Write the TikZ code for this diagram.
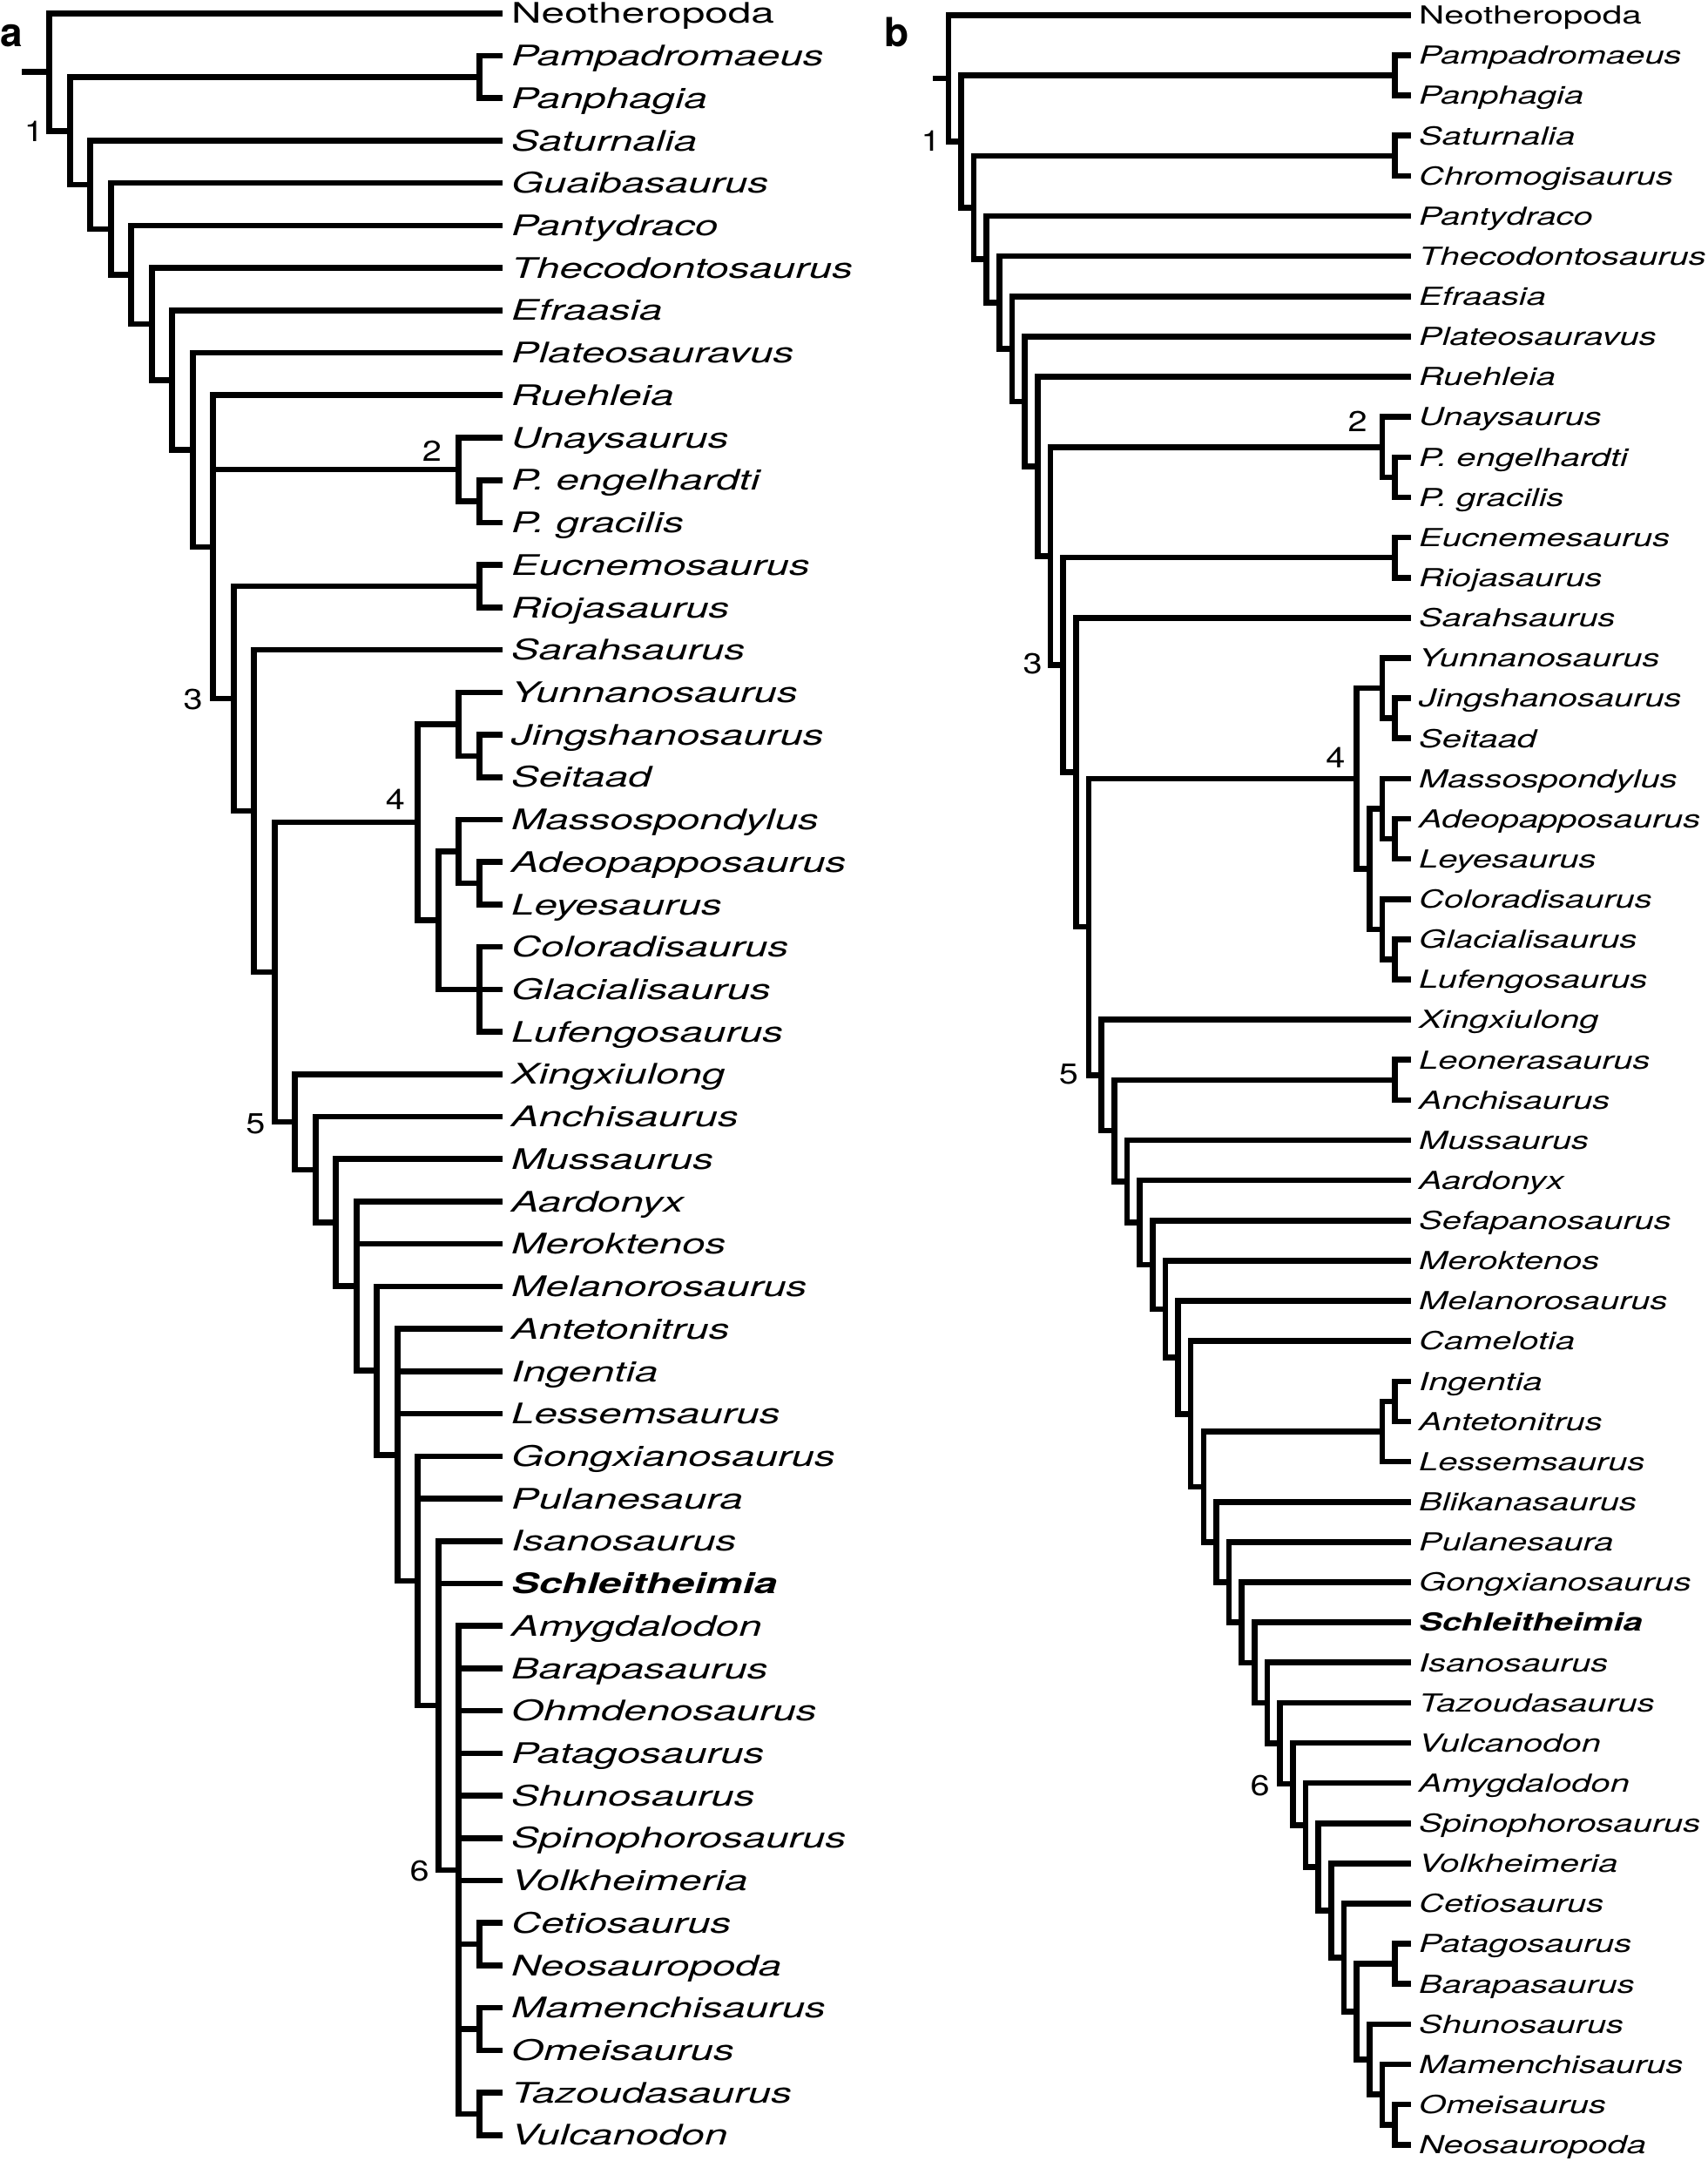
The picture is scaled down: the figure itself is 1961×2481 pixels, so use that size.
\documentclass[tikz,border=0pt]{standalone}
\usepackage{fontspec}
\setmainfont{TeX Gyre Heros}
\newfontfamily\fAi[FakeStretch=1.46]{TeX Gyre Heros}
\newfontfamily\fAr[FakeStretch=1.47]{TeX Gyre Heros}
\newfontfamily\fBi[FakeStretch=1.40]{TeX Gyre Heros}
\newfontfamily\fBr[FakeStretch=1.42]{TeX Gyre Heros}
\newfontfamily\fNum[FakeStretch=1.2]{TeX Gyre Heros}
\tikzset{
  br/.style={line width=6.6pt, line cap=rect, line join=miter},
  labA/.style={anchor=base west, inner sep=0pt, xshift=13.3pt, yshift=-11.65pt, font=\fAi\fontsize{32.5}{39}\selectfont\itshape},
  labAr/.style={labA, font=\fAr\fontsize{32.5}{39}\selectfont},
  labAb/.style={labA, font=\fAi\fontsize{32.5}{39}\selectfont\bfseries\itshape},
  labB/.style={anchor=base west, inner sep=0pt, xshift=12.8pt, yshift=-10.25pt, font=\fBi\fontsize{28.5}{34}\selectfont\itshape},
  labBr/.style={labB, font=\fBr\fontsize{28.5}{34}\selectfont},
  labBb/.style={labB, font=\fBi\fontsize{28.5}{34}\selectfont\bfseries\itshape},
  num/.style={anchor=base, inner sep=0pt, font=\fNum\fontsize{33}{40}\selectfont},
  panel/.style={anchor=base west, inner sep=0pt, font=\fontsize{46}{52}\selectfont\bfseries}
}
\begin{document}
\begin{tikzpicture}
\useasboundingbox (0pt,0pt) rectangle (1961pt,-2481pt);
\node[panel] (panelA) at (0pt,-53pt) {a};
\node[panel] (panelB) at (1015pt,-53pt) {b};

% ---------------- tree a ----------------
\begin{scope}[x={(-23.5pt,0pt)}, y={(0pt,-48.72pt)}, shift={(573.7pt,-15.3pt)}]
\foreach \i in {0,...,50} \coordinate (a\i) at (0,\i);
\coordinate (aRoot) at (22,1.38506);
\coordinate (aStub) at (23.21,1.38506);
\coordinate (aN1) at (21,2.77011);
\coordinate (aPa) at (1,1.5);
\coordinate (aS) at (20,4.04022);
\coordinate (aG) at (19,5.08044);
\coordinate (aP) at (18,6.16089);
\coordinate (aT) at (17,7.32177);
\coordinate (aE) at (16,8.64354);
\coordinate (aPl) at (15,10.28708);
\coordinate (aR) at (14,12.57416);
\coordinate (aN2) at (2,10.75);
\coordinate (aC2) at (1,11.5);
\coordinate (aN3) at (13,16.14832);
\coordinate (aER) at (1,13.5);
\coordinate (aN3b) at (12,18.79663);
\coordinate (aN45) at (11,22.59326);
\coordinate (aN4) at (4,19.0625);
\coordinate (aY) at (2,16.75);
\coordinate (aJS) at (1,17.5);
\coordinate (aN4b) at (3,21.375);
\coordinate (aMa) at (2,19.75);
\coordinate (aAL) at (1,20.5);
\coordinate (aCGL) at (1,23);
\coordinate (aN5) at (10,26.12402);
\coordinate (aAc) at (9,27.24805);
\coordinate (aMu) at (8,28.49609);
\coordinate (aAa) at (7,29.99219);
\coordinate (aMe) at (6,31.98438);
\coordinate (aAn) at (5,33.96875);
\coordinate (aGo) at (4,36.9375);
\coordinate (aIs) at (3,39.875);
\coordinate (aN6) at (2,43.75);
\coordinate (aCN) at (1,45.5);
\coordinate (aMO) at (1,47.5);
\coordinate (aTV) at (1,49.5);
\draw[br] (aStub) -- (aRoot);
\foreach \p/\c in {aRoot/a0, aRoot/aN1, aN1/aPa, aN1/aS, aPa/a1, aPa/a2, aS/a3, aS/aG, aG/a4, aG/aP, aP/a5, aP/aT, aT/a6, aT/aE, aE/a7, aE/aPl, aPl/a8, aPl/aR, aR/a9, aR/aN2, aR/aN3, aN2/a10, aN2/aC2, aC2/a11, aC2/a12, aN3/aER, aN3/aN3b, aER/a13, aER/a14, aN3b/a15, aN3b/aN45, aN45/aN4, aN45/aN5, aN4/aY, aN4/aN4b, aY/a16, aY/aJS, aJS/a17, aJS/a18, aN4b/aMa, aN4b/aCGL, aMa/a19, aMa/aAL, aAL/a20, aAL/a21, aCGL/a22, aCGL/a23, aCGL/a24, aN5/a25, aN5/aAc, aAc/a26, aAc/aMu, aMu/a27, aMu/aAa, aAa/a28, aAa/a29, aAa/aMe, aMe/a30, aMe/aAn, aAn/a31, aAn/a32, aAn/a33, aAn/aGo, aGo/a34, aGo/a35, aGo/aIs, aIs/a36, aIs/a37, aIs/aN6, aN6/a38, aN6/a39, aN6/a40, aN6/a41, aN6/a42, aN6/a43, aN6/a44, aN6/aCN, aN6/aMO, aN6/aTV, aCN/a45, aCN/a46, aMO/a47, aMO/a48, aTV/a49, aTV/a50}
  \draw[br] (\p) |- (\c);
\node[labAr] (la0) at (a0) {Neotheropoda};
\foreach \i/\t in {1/Pampadromaeus, 2/Panphagia, 3/Saturnalia, 4/Guaibasaurus, 5/Pantydraco, 6/Thecodontosaurus, 7/Efraasia, 8/Plateosauravus, 9/Ruehleia, 10/Unaysaurus, 11/P. engelhardti, 12/P. gracilis, 13/Eucnemosaurus, 14/Riojasaurus, 15/Sarahsaurus, 16/Yunnanosaurus, 17/Jingshanosaurus, 18/Seitaad, 19/Massospondylus, 20/Adeopapposaurus, 21/Leyesaurus, 22/Coloradisaurus, 23/Glacialisaurus, 24/Lufengosaurus, 25/Xingxiulong, 26/Anchisaurus, 27/Mussaurus, 28/Aardonyx, 29/Meroktenos, 30/Melanorosaurus, 31/Antetonitrus, 32/Ingentia, 33/Lessemsaurus, 34/Gongxianosaurus, 35/Pulanesaura, 36/Isanosaurus, 38/Amygdalodon, 39/Barapasaurus, 40/Ohmdenosaurus, 41/Patagosaurus, 42/Shunosaurus, 43/Spinophorosaurus, 44/Volkheimeria, 45/Cetiosaurus, 46/Neosauropoda, 47/Mamenchisaurus, 48/Omeisaurus, 49/Tazoudasaurus, 50/Vulcanodon}
  \node[labA] (la\i) at (a\i) {\t};
\node[labAb] (la37) at (a37) {Schleitheimia};
\node[num, xshift=-17.7pt, yshift=-12pt] (nA1) at (aRoot |- aN1) {1};
\node[num, xshift=-30.7pt, yshift=9.5pt] (nA2) at (aN2) {2};
\node[num, xshift=-23.1pt, yshift=-12pt] (nA3) at (aR |- aN3) {3};
\node[num, xshift=-25.7pt, yshift=14.5pt] (nA4) at (aN4) {4};
\node[num, xshift=-21.9pt, yshift=-13pt] (nA5) at (aN45 |- aN5) {5};
\node[num, xshift=-21.5pt, yshift=-13pt] (nA6) at (aIs |- aN6) {6};
\end{scope}

% ---------------- tree b ----------------
\begin{scope}[x={(-14.65pt,0pt)}, y={(0pt,-46.13pt)}, shift={(1616.2pt,-17.4pt)}]
\foreach \i in {0,...,53} \coordinate (b\i) at (0,\i);
\coordinate (bRoot) at (36,1.57212);
\coordinate (bStub) at (36.97,1.57212);
\coordinate (bN1) at (35,3.14423);
\coordinate (bPa) at (1,1.5);
\coordinate (bS) at (34,4.78846);
\coordinate (bSC) at (1,3.5);
\coordinate (bP) at (33,6.07692);
\coordinate (bT) at (32,7.15383);
\coordinate (bE) at (31,8.30767);
\coordinate (bPl) at (30,9.61534);
\coordinate (bR) at (29,11.23067);
\coordinate (bQ) at (28,13.46134);
\coordinate (bN2) at (2,10.75);
\coordinate (bC2) at (1,11.5);
\coordinate (bN3) at (27,16.17267);
\coordinate (bER) at (1,13.5);
\coordinate (bN3b) at (26,18.84534);
\coordinate (bN45) at (25,22.69067);
\coordinate (bN4) at (4,19);
\coordinate (bY) at (2,16.75);
\coordinate (bJS) at (1,17.5);
\coordinate (bN4b) at (3,21.25);
\coordinate (bM) at (2,19.75);
\coordinate (bAL) at (1,20.5);
\coordinate (bC) at (2,22.75);
\coordinate (bGL) at (1,23.5);
\coordinate (bN5) at (24,26.38135);
\coordinate (bL) at (23,27.7627);
\coordinate (bLA) at (1,26.5);
\coordinate (bMu) at (22,29.02539);
\coordinate (bAa) at (21,30.05079);
\coordinate (bSe) at (20,31.10157);
\coordinate (bMr) at (19,32.20315);
\coordinate (bMl) at (18,33.40629);
\coordinate (bCa) at (17,34.81258);
\coordinate (bK) at (16,36.62517);
\coordinate (bIAL) at (2,35.25);
\coordinate (bIA) at (1,34.5);
\coordinate (bBl) at (15,38.00034);
\coordinate (bPu) at (14,39.00067);
\coordinate (bGo) at (13,40.00134);
\coordinate (bSc) at (12,41.00269);
\coordinate (bIs) at (11,42.00537);
\coordinate (bTa) at (10,43.01074);
\coordinate (bN6) at (9,44.02148);
\coordinate (bAm) at (8,45.04297);
\coordinate (bSp) at (7,46.08594);
\coordinate (bVo) at (6,47.17188);
\coordinate (bCe) at (5,48.34375);
\coordinate (bPBp) at (4,49.6875);
\coordinate (bPB) at (1,48.5);
\coordinate (bSh) at (3,50.875);
\coordinate (bMa) at (2,51.75);
\coordinate (bON) at (1,52.5);
\draw[br] (bStub) -- (bRoot);
\foreach \p/\c in {bRoot/b0, bRoot/bN1, bN1/bPa, bN1/bS, bPa/b1, bPa/b2, bS/bSC, bS/bP, bSC/b3, bSC/b4, bP/b5, bP/bT, bT/b6, bT/bE, bE/b7, bE/bPl, bPl/b8, bPl/bR, bR/b9, bR/bQ, bQ/bN2, bQ/bN3, bN2/b10, bN2/bC2, bC2/b11, bC2/b12, bN3/bER, bN3/bN3b, bER/b13, bER/b14, bN3b/b15, bN3b/bN45, bN45/bN4, bN45/bN5, bN4/bY, bN4/bN4b, bY/b16, bY/bJS, bJS/b17, bJS/b18, bN4b/bM, bN4b/bC, bM/b19, bM/bAL, bAL/b20, bAL/b21, bC/b22, bC/bGL, bGL/b23, bGL/b24, bN5/b25, bN5/bL, bL/bLA, bL/bMu, bLA/b26, bLA/b27, bMu/b28, bMu/bAa, bAa/b29, bAa/bSe, bSe/b30, bSe/bMr, bMr/b31, bMr/bMl, bMl/b32, bMl/bCa, bCa/b33, bCa/bK, bK/bIAL, bK/bBl, bIAL/bIA, bIAL/b36, bIA/b34, bIA/b35, bBl/b37, bBl/bPu, bPu/b38, bPu/bGo, bGo/b39, bGo/bSc, bSc/b40, bSc/bIs, bIs/b41, bIs/bTa, bTa/b42, bTa/bN6, bN6/b43, bN6/bAm, bAm/b44, bAm/bSp, bSp/b45, bSp/bVo, bVo/b46, bVo/bCe, bCe/b47, bCe/bPBp, bPBp/bPB, bPBp/bSh, bPB/b48, bPB/b49, bSh/b50, bSh/bMa, bMa/b51, bMa/bON, bON/b52, bON/b53}
  \draw[br] (\p) |- (\c);
\node[labBr] (lb0) at (b0) {Neotheropoda};
\foreach \i/\t in {1/Pampadromaeus, 2/Panphagia, 3/Saturnalia, 4/Chromogisaurus, 5/Pantydraco, 6/Thecodontosaurus, 7/Efraasia, 8/Plateosauravus, 9/Ruehleia, 10/Unaysaurus, 11/P. engelhardti, 12/P. gracilis, 13/Eucnemesaurus, 14/Riojasaurus, 15/Sarahsaurus, 16/Yunnanosaurus, 17/Jingshanosaurus, 18/Seitaad, 19/Massospondylus, 20/Adeopapposaurus, 21/Leyesaurus, 22/Coloradisaurus, 23/Glacialisaurus, 24/Lufengosaurus, 25/Xingxiulong, 26/Leonerasaurus, 27/Anchisaurus, 28/Mussaurus, 29/Aardonyx, 30/Sefapanosaurus, 31/Meroktenos, 32/Melanorosaurus, 33/Camelotia, 34/Ingentia, 35/Antetonitrus, 36/Lessemsaurus, 37/Blikanasaurus, 38/Pulanesaura, 39/Gongxianosaurus, 41/Isanosaurus, 42/Tazoudasaurus, 43/Vulcanodon, 44/Amygdalodon, 45/Spinophorosaurus, 46/Volkheimeria, 47/Cetiosaurus, 48/Patagosaurus, 49/Barapasaurus, 50/Shunosaurus, 51/Mamenchisaurus, 52/Omeisaurus, 53/Neosauropoda}
  \node[labB] (lb\i) at (b\i) {\t};
\node[labBb] (lb40) at (b40) {Schleitheimia};
\node[num, xshift=-20.3pt, yshift=-11pt] (nB1) at (bRoot |- bN1) {1};
\node[num, xshift=-28.3pt, yshift=18pt] (nB2) at (bN2) {2};
\node[num, xshift=-20.5pt, yshift=-10pt] (nB3) at (bQ |- bN3) {3};
\node[num, xshift=-24.2pt, yshift=12pt] (nB4) at (bN4) {4};
\node[num, xshift=-23pt, yshift=-10.6pt] (nB5) at (bN45 |- bN5) {5};
\node[num, xshift=-23pt, yshift=-13pt] (nB6) at (bTa |- bN6) {6};
\end{scope}
\end{tikzpicture}
\end{document}
